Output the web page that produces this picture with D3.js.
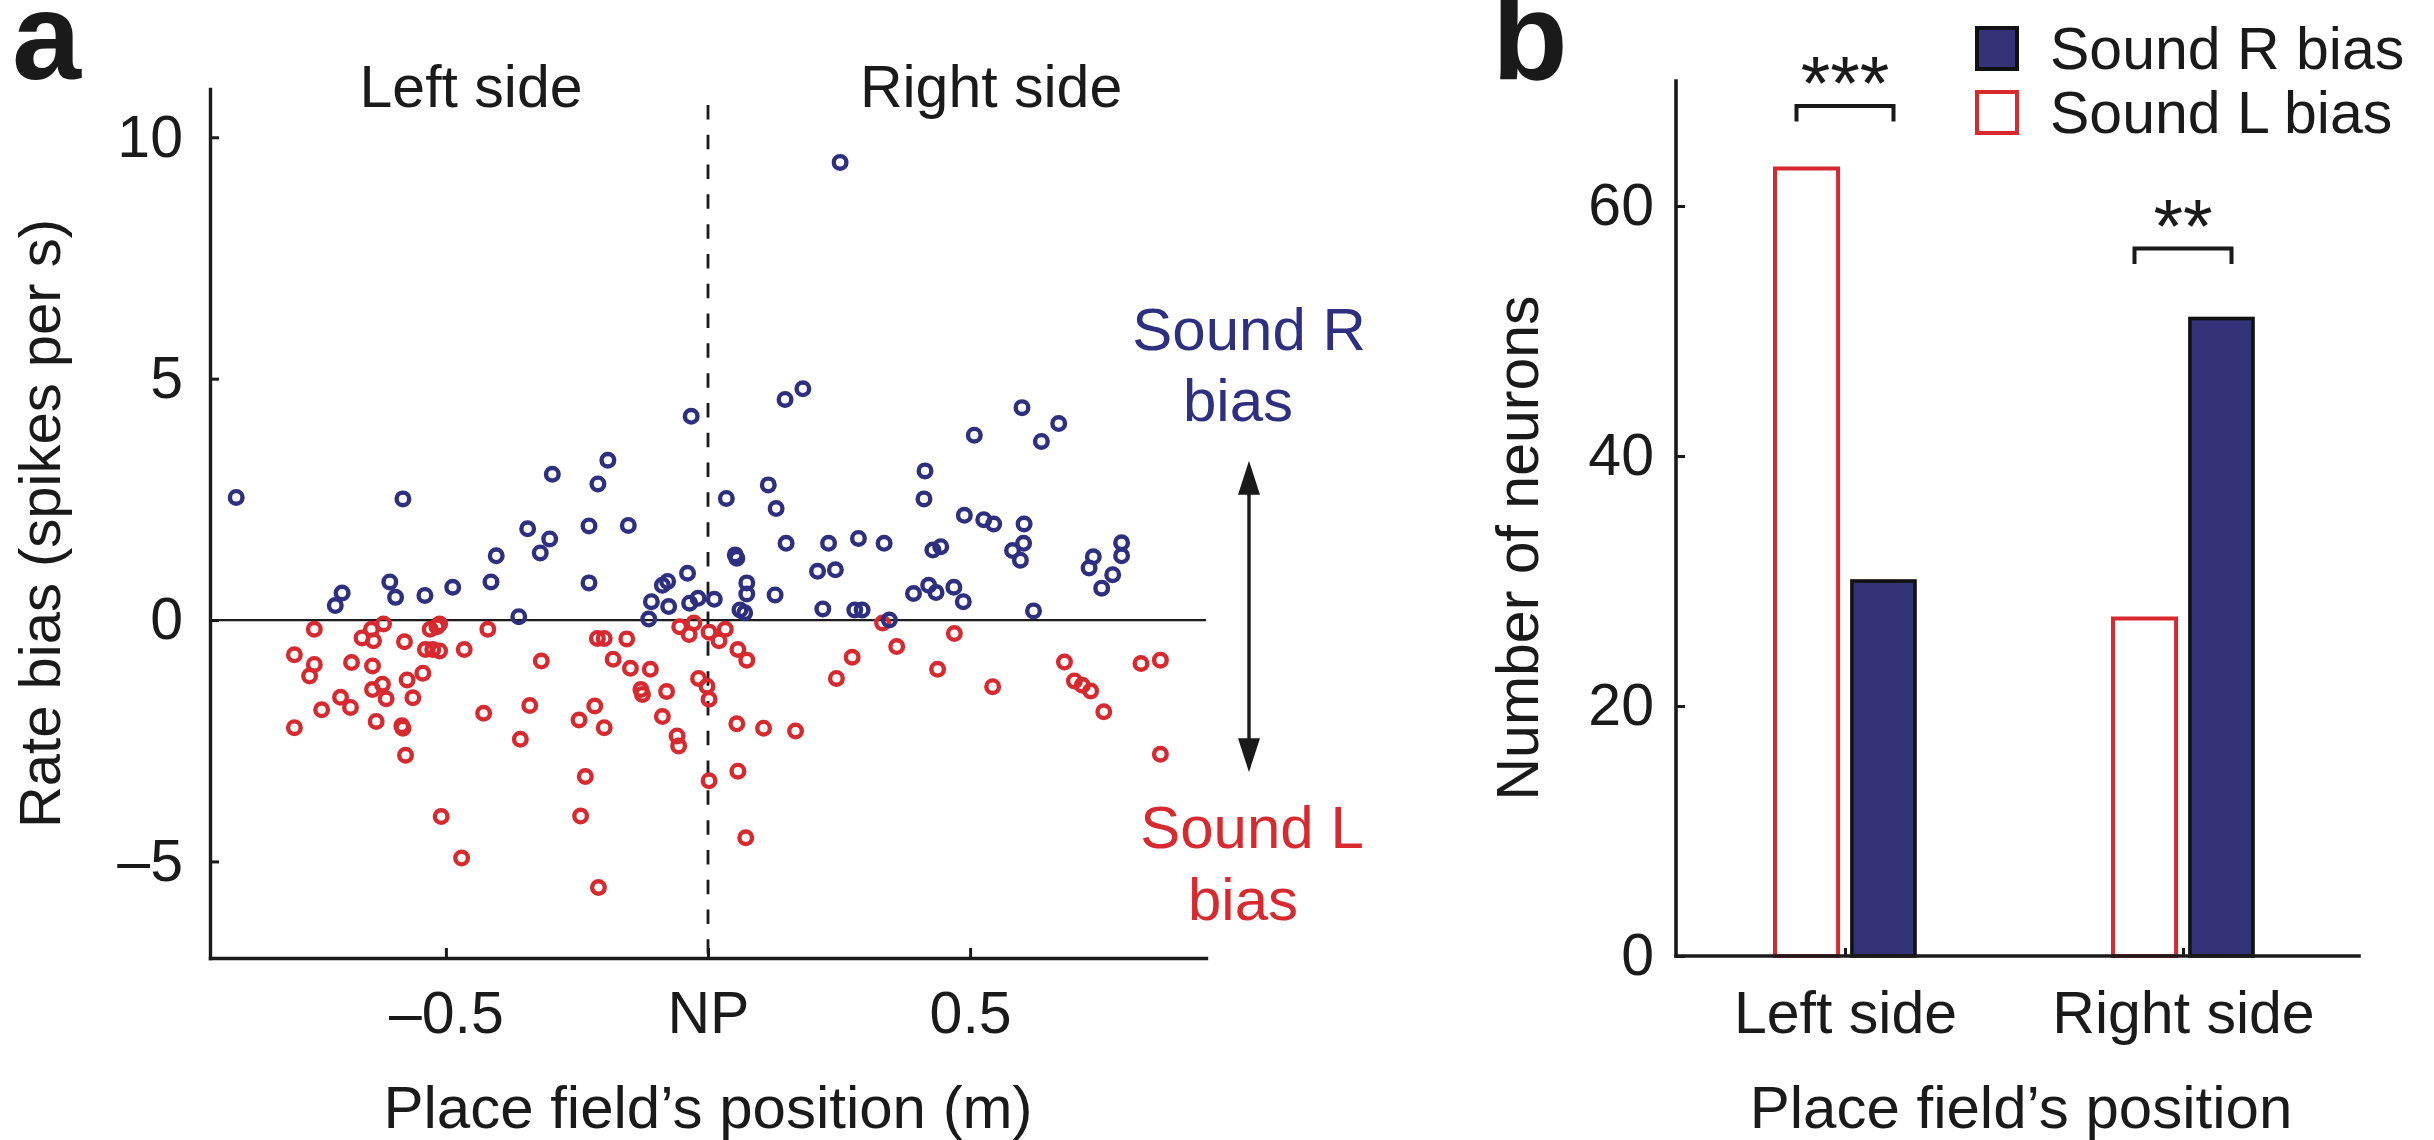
<!DOCTYPE html>
<html><head><meta charset="utf-8">
<script src="https://cdn.jsdelivr.net/npm/d3@7"></script>
<style>
body{margin:0;background:#fff}
svg{display:block}
text{font-family:"Liberation Sans",Arial,Helvetica,sans-serif;fill:#1a1a1a}
</style>
</head><body>
<svg id="chart" width="2434" height="1140"></svg>
<script>
// ---------- Panel a data: Sound R bias neurons (blue) ----------
const soundRX = [-0.900,-0.582,-0.297,-0.191,-0.210,-0.344,-0.302,-0.320,-0.227,-0.152,
 -0.404,-0.414,-0.227,-0.487,-0.540,-0.596,-0.607,-0.698,-0.711,-0.361,
 -0.039,-0.077,-0.087,-0.108,-0.075,-0.113,-0.035,-0.019,-0.032,
 0.012,0.252,0.147,0.181,0.599,0.669,0.636,0.508,0.414,0.412,
 0.035,0.115,0.130,0.052,0.055,0.149,0.230,0.287,0.336,0.209,
 0.243,0.489,0.526,0.545,0.603,0.602,0.581,0.596,0.429,0.444,
 0.735,0.727,0.789,0.789,0.772,0.751,0.074,0.074,0.061,0.070,
 0.128,0.219,0.280,0.294,0.346,0.392,0.421,0.435,0.469,0.487,0.621];
const soundRY = [2.54,2.51,3.02,3.31,2.82,1.89,1.68,1.39,1.95,1.96,
 1.33,0.79,0.77,0.68,0.51,0.47,0.79,0.56,0.30,0.07,
 0.97,0.80,0.72,0.38,0.28,0.02,0.35,0.45,4.22,
 0.43,9.48,4.57,4.79,4.40,4.07,3.70,3.83,3.09,2.51,
 2.52,2.80,2.31,1.35,1.28,1.59,1.59,1.69,1.59,1.01,
 1.04,2.17,2.08,1.99,1.99,1.59,1.44,1.24,1.45,1.52,
 1.31,1.08,1.60,1.33,0.94,0.66,0.77,0.54,0.21,0.15,
 0.52,0.23,0.21,0.21,0.00,0.55,0.72,0.57,0.68,0.38,0.19];

// ---------- Panel a data: Sound L bias neurons (red) ----------
const soundLX = [-0.751,-0.789,-0.751,-0.760,-0.789,-0.737,-0.701,-0.682,-0.680,-0.660,
 -0.642,-0.638,-0.619,-0.640,-0.621,-0.640,-0.614,-0.633,-0.584,-0.582,
 -0.577,-0.579,-0.574,-0.563,-0.544,-0.539,-0.525,-0.512,-0.530,-0.512,
 -0.517,-0.509,-0.470,-0.465,-0.420,-0.428,-0.358,-0.340,-0.318,-0.246,
 -0.216,-0.198,-0.234,-0.243,-0.209,-0.211,-0.198,-0.155,-0.181,-0.148,
 -0.110,-0.128,-0.125,-0.079,-0.087,-0.059,-0.056,-0.054,-0.036,-0.027,
 -0.018,-0.002,0.002,0.002,0.002,
 0.033,0.021,0.057,0.074,0.055,0.106,0.167,0.057,0.072,0.245,
 0.275,0.333,0.360,0.470,0.438,0.543,0.680,0.699,0.714,0.730,
 0.755,0.826,0.863,0.863];
const soundLY = [-0.19,-0.72,-0.92,-1.16,-2.23,-1.86,-1.60,-1.81,-0.88,-0.37,
 -0.19,-0.43,-0.08,-0.95,-1.33,-1.44,-1.63,-2.10,-2.19,-2.24,
 -2.80,-0.45,-1.24,-1.61,-1.10,-0.61,-0.61,-0.64,-0.19,-0.08,
 -0.14,-4.07,-4.93,-0.61,-0.19,-1.93,-2.47,-1.77,-0.85,-2.07,
 -1.78,-2.23,-3.24,-4.06,-5.54,-0.38,-0.38,-0.39,-0.81,-1.00,
 -1.02,-1.44,-1.54,-1.48,-2.00,-2.40,-2.61,-0.14,-0.30,-0.06,
 -1.21,-1.37,-1.64,-3.33,-0.25,
 -0.19,-0.43,-0.61,-0.83,-2.15,-2.24,-2.30,-3.13,-4.51,-1.21,
 -0.77,-0.06,-0.55,-0.28,-1.02,-1.38,-0.87,-1.26,-1.35,-1.47,
 -1.90,-0.90,-0.83,-2.78];

const xTicksA = [-0.5, 0, 0.5];
const xTickLabelsA = ["\u20130.5", "NP", "0.5"];
const yTicksA = [-5, 0, 5, 10];
const yTickLabelsA = ["\u20135", "0", "5", "10"];

// ---------- Panel b data ----------
const sides = ["Left side", "Right side"];
const countSoundL = [63, 27];
const countSoundR = [30, 51];
const sigLevel = [68, 56.6];
const sigStars = ["***", "**"];
const yTicksB = [0, 20, 40, 60];

const BLUE = "#2d2f80", RED = "#d8292f", BAR_BLUE = "#33337a", INK = "#1a1a1a";
const svg = d3.select("#chart");

// ================= Panel a =================
const xA = d3.scaleLinear().domain([-0.95, 0.95]).range([210, 1206]);
const yA = d3.scaleLinear().domain([-7, 11]).range([958, 89]);

// panel letter
svg.append("text").attr("x", 12).attr("y", 79)
  .style("font-family", "'Liberation Sans Narrow','Liberation Sans',Arial,sans-serif")
  .style("font-weight", "bold").style("font-size", "124px").text("a");

// zero line
svg.append("line").attr("x1", xA(-0.95)).attr("x2", xA(0.95))
  .attr("y1", yA(0)).attr("y2", yA(0)).attr("stroke", INK).attr("stroke-width", 2.2);
// NP dashed line
svg.append("line").attr("x1", xA(0)).attr("x2", xA(0))
  .attr("y1", yA(10.67)).attr("y2", yA(-7)).attr("stroke", INK)
  .attr("stroke-width", 2.8).attr("stroke-dasharray", "14.5,15.3");

// axes
const yAxisA = d3.axisLeft(yA).tickValues(yTicksA)
  .tickFormat((d, i) => yTickLabelsA[i]).tickSize(-9).tickSizeOuter(0).tickPadding(27);
const gyA = svg.append("g").attr("transform", `translate(${xA(-0.95)},0)`).call(yAxisA);
const xAxisA = d3.axisBottom(xA).tickValues(xTicksA)
  .tickFormat((d, i) => xTickLabelsA[i]).tickSize(-10).tickSizeOuter(0);
const gxA = svg.append("g").attr("transform", `translate(0,${yA(-7)})`).call(xAxisA);
gxA.selectAll(".tick text").attr("y", 75).attr("dy", null);
[gyA, gxA].forEach(g => {
  g.select(".domain").attr("stroke", INK).attr("stroke-width", 3.4).attr("stroke-linecap", "square");
  g.selectAll(".tick line").attr("stroke", INK).attr("stroke-width", 3);
  g.selectAll(".tick text").style("font-size", "59px").attr("fill", INK)
    .style("font-family", "'Liberation Sans',Arial,sans-serif");
});

// points
const ptsL = soundLX.map((x, i) => ({x, y: soundLY[i]}));
const ptsR = soundRX.map((x, i) => ({x, y: soundRY[i]}));
svg.append("g").selectAll("circle").data(ptsL).join("circle")
  .attr("cx", d => xA(d.x)).attr("cy", d => yA(d.y)).attr("r", 6.3)
  .attr("fill", "none").attr("stroke", RED).attr("stroke-width", 4.4);
svg.append("g").selectAll("circle").data(ptsR).join("circle")
  .attr("cx", d => xA(d.x)).attr("cy", d => yA(d.y)).attr("r", 6.3)
  .attr("fill", "none").attr("stroke", BLUE).attr("stroke-width", 4.4);

// labels
svg.append("text").attr("x", xA(-0.452)).attr("y", 107).attr("text-anchor", "middle")
  .style("font-size", "59px").text("Left side");
svg.append("text").attr("x", xA(0.54)).attr("y", 107).attr("text-anchor", "middle")
  .style("font-size", "59px").text("Right side");
svg.append("text").attr("transform", `translate(60,${(yA(-7) + yA(11)) / 2}) rotate(-90)`)
  .attr("text-anchor", "middle").style("font-size", "58px").text("Rate bias (spikes per s)");
svg.append("text").attr("x", xA(0)).attr("y", 1128).attr("text-anchor", "middle")
  .style("font-size", "60px").text("Place field\u2019s position (m)");

// Sound R / Sound L annotations
const annX = 1249;
svg.append("text").attr("x", annX).attr("y", 350).attr("text-anchor", "middle")
  .style("font-size", "60px").style("fill", BLUE).text("Sound R");
svg.append("text").attr("x", annX - 11).attr("y", 421).attr("text-anchor", "middle")
  .style("font-size", "60px").style("fill", BLUE).text("bias");
svg.append("text").attr("x", annX + 3).attr("y", 848).attr("text-anchor", "middle")
  .style("font-size", "60px").style("fill", RED).text("Sound L");
svg.append("text").attr("x", annX - 6).attr("y", 920).attr("text-anchor", "middle")
  .style("font-size", "60px").style("fill", RED).text("bias");
// double-headed arrow
const aTop = yA(3.3), aBot = yA(-3.15), head = 34, hw = 11;
svg.append("line").attr("x1", annX).attr("x2", annX).attr("y1", aTop + head - 2).attr("y2", aBot - head + 2)
  .attr("stroke", INK).attr("stroke-width", 3.4);
svg.append("path").attr("d", `M${annX},${aTop}L${annX + hw},${aTop + head}L${annX - hw},${aTop + head}Z`).attr("fill", INK);
svg.append("path").attr("d", `M${annX},${aBot}L${annX + hw},${aBot - head}L${annX - hw},${aBot - head}Z`).attr("fill", INK);

// ================= Panel b =================
const xB = d3.scalePoint().domain(sides).range([1676, 2352]).padding(0.5);
const inner = d3.scaleBand().domain(["L", "R"]).range([-70, 70]).paddingInner(0.18);
const yB = d3.scaleLinear().domain([0, 70]).range([956, 81]);

svg.append("text").attr("x", 1492).attr("y", 79)
  .style("font-family", "'Liberation Sans Narrow','Liberation Sans',Arial,sans-serif")
  .style("font-weight", "bold").style("font-size", "124px").text("b");

// bars
svg.append("g").selectAll("rect").data(sides).join("rect")
  .attr("x", d => xB(d) + inner("L")).attr("width", inner.bandwidth())
  .attr("y", (d, i) => yB(countSoundL[i])).attr("height", (d, i) => yB(0) - yB(countSoundL[i]))
  .attr("fill", "#fff").attr("stroke", RED).attr("stroke-width", 4);
svg.append("g").selectAll("rect").data(sides).join("rect")
  .attr("x", d => xB(d) + inner("R")).attr("width", inner.bandwidth())
  .attr("y", (d, i) => yB(countSoundR[i])).attr("height", (d, i) => yB(0) - yB(countSoundR[i]))
  .attr("fill", BAR_BLUE).attr("stroke", "#111").attr("stroke-width", 3.6);

// axes
const yAxisB = d3.axisLeft(yB).tickValues(yTicksB).tickSize(-9).tickSizeOuter(0).tickPadding(22);
const gyB = svg.append("g").attr("transform", "translate(1676,0)").call(yAxisB);
const xAxisB = d3.axisBottom(xB).tickSize(-8).tickSizeOuter(0);
const gxB = svg.append("g").attr("transform", `translate(0,${yB(0)})`).call(xAxisB);
gxB.select(".domain").attr("d", "M1676,0H2359");
gxB.selectAll(".tick text").attr("y", 77).attr("dy", null);
[gyB, gxB].forEach(g => {
  g.select(".domain").attr("stroke", INK).attr("stroke-width", 3.6).attr("stroke-linecap", "square");
  g.selectAll(".tick line").attr("stroke", INK).attr("stroke-width", 3);
  g.selectAll(".tick text").style("font-size", "59px").attr("fill", INK)
    .style("font-family", "'Liberation Sans',Arial,sans-serif");
});
gyB.select(".domain").attr("d", `M0,${yB(0)}V${yB(70)}`);

svg.append("text").attr("transform", `translate(1538,548) rotate(-90)`)
  .attr("text-anchor", "middle").style("font-size", "59px").text("Number of neurons");
svg.append("text").attr("x", 2021).attr("y", 1128).attr("text-anchor", "middle")
  .style("font-size", "60px").text("Place field\u2019s position");

// significance brackets
sides.forEach((s, i) => {
  const cx = xB(s), by = yB(sigLevel[i]), half = 48.5;
  svg.append("path").attr("d", `M${cx - half},${by + 15.5}V${by}H${cx + half}V${by + 15.5}`)
    .attr("fill", "none").attr("stroke", INK).attr("stroke-width", 4);
  svg.append("text").attr("x", cx).attr("y", by + 3).attr("text-anchor", "middle")
    .style("font-size", "76px").text(sigStars[i]);
});

// legend
const legend = [{label: "Sound R bias", fill: BAR_BLUE, stroke: "#111"},
                {label: "Sound L bias", fill: "#fff", stroke: RED}];
legend.forEach((l, i) => {
  const y0 = 28 + i * 64;
  svg.append("rect").attr("x", 1977).attr("y", y0).attr("width", 40).attr("height", 41)
    .attr("fill", l.fill).attr("stroke", l.stroke).attr("stroke-width", 4);
  svg.append("text").attr("x", 2050).attr("y", y0 + 41).style("font-size", "59px").text(l.label);
});
</script>
</body></html>
